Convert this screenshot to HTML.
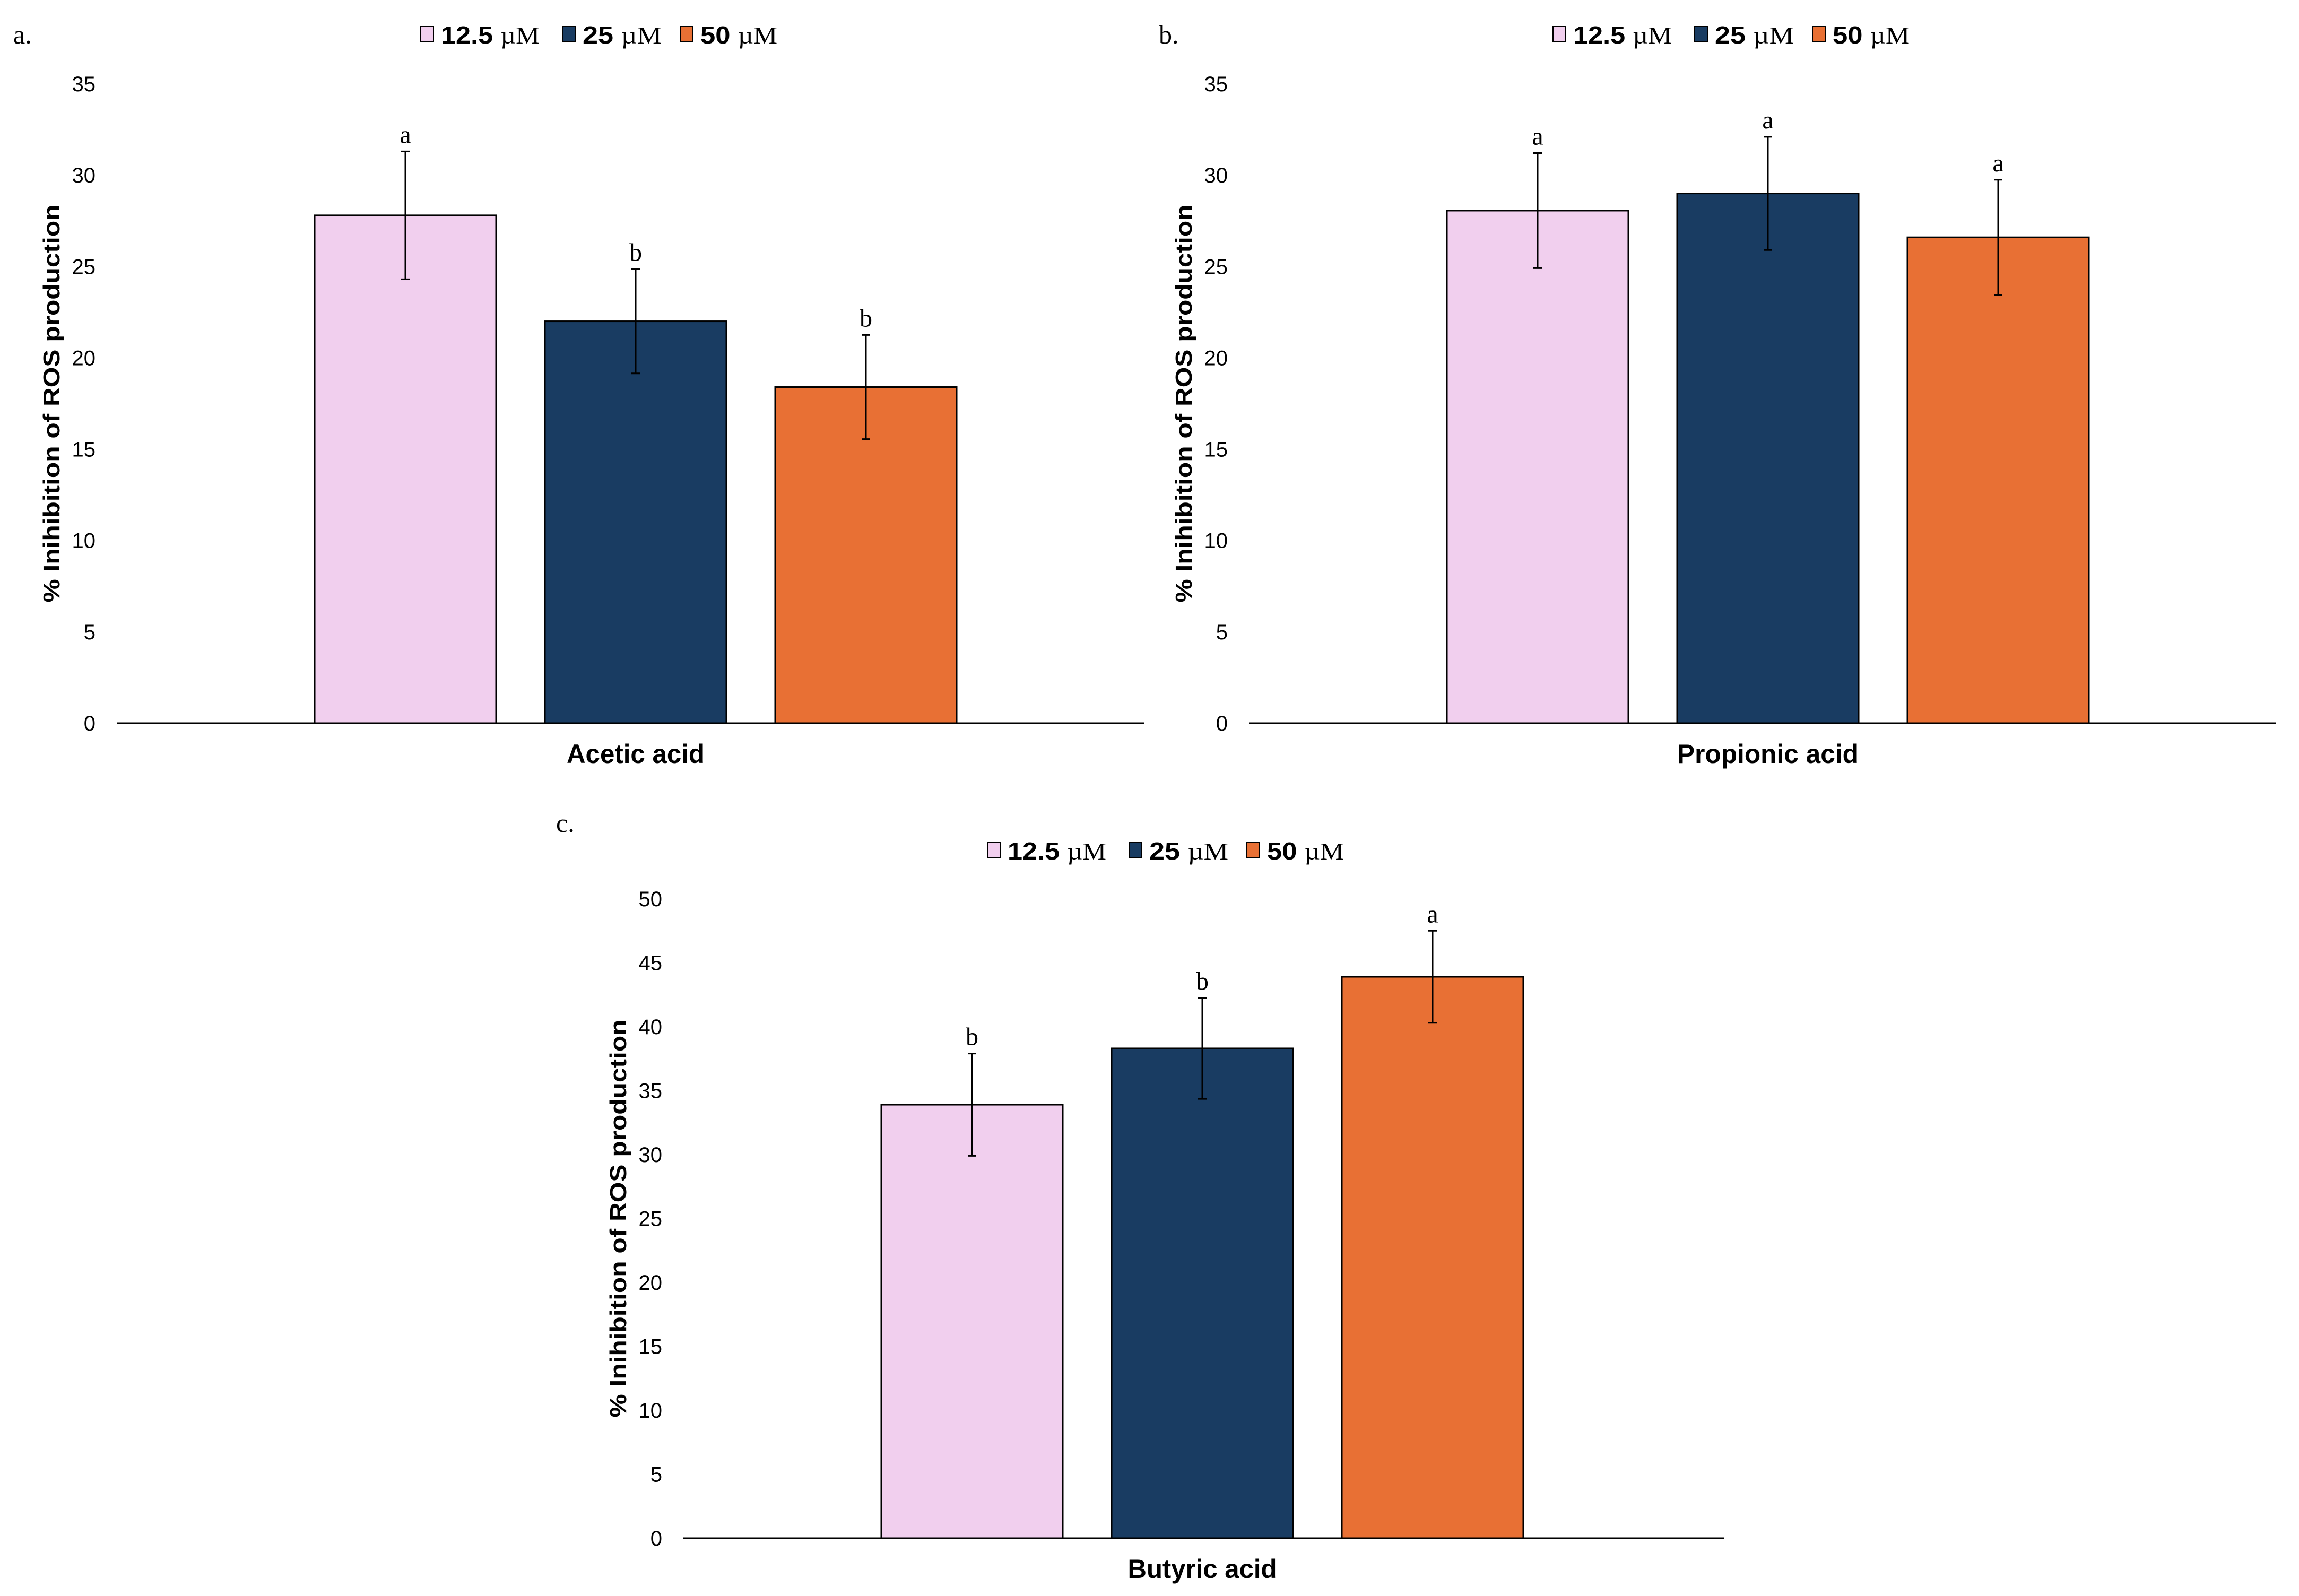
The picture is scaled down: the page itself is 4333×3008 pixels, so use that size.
<!DOCTYPE html>
<html><head><meta charset="utf-8"><style>
html,body{margin:0;padding:0;background:#fff;overflow:hidden;}
svg{display:block;}
.tick{font-family:"Liberation Sans Narrow","Liberation Sans",sans-serif;font-size:40px;fill:#000;}
.ytitle{font-family:"Liberation Sans",sans-serif;font-weight:bold;font-size:44px;fill:#000;}
.xlabel{font-family:"Liberation Sans Narrow","Liberation Sans",sans-serif;font-weight:bold;font-size:50px;fill:#000;}
.leg{font-family:"Liberation Sans Narrow","Liberation Sans",sans-serif;font-weight:bold;font-size:46px;fill:#000;}
.mu{font-family:"Liberation Serif",serif;font-weight:normal;}
.sig{font-family:"Liberation Serif",serif;font-size:48px;fill:#000;}
.plab{font-family:"Liberation Serif",serif;font-size:50px;fill:#000;}
</style></head><body>
<svg id="chart" width="4333" height="3008" viewBox="0 0 4333 3008" xmlns="http://www.w3.org/2000/svg"></svg>
<script>
const seriesNames = ["12.5 µM", "25 µM", "50 µM"];
const seriesColors = ["#f1cfee", "#193c62", "#e87034"];
const panelLetters = ["a.", "b.", "c."];
const categories = ["Acetic acid", "Propionic acid", "Butyric acid"];
const acetic = [27.8, 22.0, 18.4];
const aceticErr = [3.5, 2.85, 2.85];
const aceticSig = ["a", "b", "b"];
const propionic = [28.06, 29.0, 26.6];
const propionicErr = [3.15, 3.1, 3.15];
const propionicSig = ["a", "a", "a"];
const butyric = [33.9, 38.3, 43.9];
const butyricErr = [4.0, 3.95, 3.6];
const butyricSig = ["b", "b", "a"];
const ticksAB = [0, 5, 10, 15, 20, 25, 30, 35];
const ticksC = [0, 5, 10, 15, 20, 25, 30, 35, 40, 45, 50];

const svg = document.getElementById('chart');
const NS = "http://www.w3.org/2000/svg";
function mk(tag, attrs, parent) {
  const e = document.createElementNS(NS, tag);
  for (const k in attrs) e.setAttribute(k, attrs[k]);
  (parent || svg).appendChild(e);
  return e;
}

const legLens = [186, 149, 145];
const xLens = [260, 342, 281];
const layouts = [
  {ax: 220, axEnd: 2156, y0: 1363, yTop: 158, max: 35, ticks: ticksAB, vals: acetic, err: aceticErr, sig: aceticSig, lx: 25, ly: 82, legY: 82, name: "acetic"},
  {ax: 2354, axEnd: 4290, y0: 1363, yTop: 158, max: 35, ticks: ticksAB, vals: propionic, err: propionicErr, sig: propionicSig, lx: 2184, ly: 82, legY: 82, name: "propionic"},
  {ax: 1288, axEnd: 3249, y0: 2899, yTop: 1694, max: 50, ticks: ticksC, vals: butyric, err: butyricErr, sig: butyricSig, lx: 1048, ly: 1568, legY: 1620, name: "butyric"}
];

layouts.forEach((L, pi) => {
  const g = mk('g', {});
  
  
  const yS = v => L.y0 - (v / L.max) * (L.y0 - L.yTop);
  const xS = i => L.ax + 373 + i * 434;
  const bw = 342;

  const pl = mk('text', {x: L.lx, y: L.ly, class: 'plab'}, g);
  pl.textContent = panelLetters[pi];
  
  

  const lg = mk('g', {}, g);
  
  
  const legOff = [573, 840, 1062];
  seriesNames.forEach((s, i) => {
    const x = L.ax + legOff[i];
    const sw = mk('rect', {x: x, y: L.legY - 32, width: 24, height: 28, fill: seriesColors[i], stroke: '#000', 'stroke-width': 2}, lg);
    
    
    const t = mk('text', {x: x + 38, y: L.legY, class: 'leg', textLength: legLens[i], lengthAdjust: 'spacingAndGlyphs'}, lg);
    const parts = s.split(' ');
    t.appendChild(document.createTextNode(parts[0] + ' '));
    const mu = mk('tspan', {class: 'mu'}, t);
    mu.textContent = parts[1];
    
    
  });

  L.ticks.forEach(v => {
    const t = mk('text', {x: L.ax - 40, y: yS(v) + 14, 'text-anchor': 'end', class: 'tick'}, g);
    t.textContent = v;
    
    
  });

  const cy = (L.y0 + L.yTop) / 2;
  const yt = mk('text', {x: 0, y: 0, transform: `translate(${L.ax - 108},${cy}) rotate(-90)`, 'text-anchor': 'middle', class: 'ytitle', textLength: 750, lengthAdjust: 'spacingAndGlyphs'}, g);
  yt.textContent = '% Inihibition of ROS production';
  
  

  L.vals.forEach((v, i) => {
    const x = xS(i);
    const b = mk('rect', {x: x, y: yS(v), width: bw, height: L.y0 - yS(v), fill: seriesColors[i], stroke: '#000', 'stroke-width': 3}, g);
    
    
    const cx = x + bw / 2;
    const hi = yS(v + L.err[i]), lo = yS(v - L.err[i]);
    const eb = mk('path', {d: `M${cx},${hi}V${lo}M${cx - 8},${hi}H${cx + 8}M${cx - 8},${lo}H${cx + 8}`, stroke: '#000', 'stroke-width': 3, fill: 'none'}, g);
    
    
    const s = mk('text', {x: cx, y: hi - 16, 'text-anchor': 'middle', class: 'sig'}, g);
    s.textContent = L.sig[i];
    
    
  });

  const axl = mk('line', {x1: L.ax, x2: L.axEnd, y1: L.y0, y2: L.y0, stroke: '#000', 'stroke-width': 3}, g);
  
  

  const xl = mk('text', {x: xS(1) + bw / 2, y: L.y0 + 75, 'text-anchor': 'middle', class: 'xlabel', textLength: xLens[pi], lengthAdjust: 'spacingAndGlyphs'}, g);
  xl.textContent = categories[pi];
  
  
});
</script>
</body></html>
